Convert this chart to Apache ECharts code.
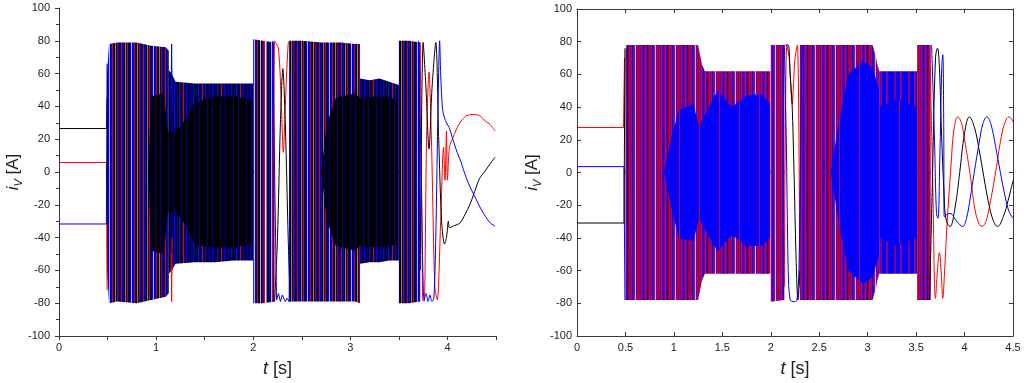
<!DOCTYPE html>
<html>
<head>
<meta charset="utf-8">
<script src="https://cdn.jsdelivr.net/npm/echarts@6.0.0/dist/echarts.min.js"></script>
<style>
html,body{margin:0;padding:0;background:#ffffff;}
#chart{width:1024px;height:383px;}
</style>
</head>
<body>
<div id="chart"></div>
<script>
// ================= tick values =================
const yTickValues = [-100,-80,-60,-40,-20,0,20,40,60,80,100];
const leftXLabels = [0,1,2,3,4];
const rightXLabels = [0,0.5,1,1.5,2,2.5,3,3.5,4,4.5];
const xMax = 4.5;

// ================= LEFT panel =================
// steady currents before the start  [t (s), i (A)]
const L_red_pre   = [[0,5.8],[0.488,5.8],[0.495,-72]];
const L_black_pre = [[0,26.5],[0.488,26.5],[0.495,45]];
const L_blue_pre  = [[0,-31.7],[0.488,-31.7],[0.495,66]];
// envelopes of the dense (unresolvable) oscillation of all phases  [t, upper, lower]
const L_env1 = [[0.495,60,-60],[0.515,78,-80],[0.6,79,-79],[0.8,79,-80],[0.95,77,-78],[1.1,76,-76],[1.13,74,-74]];
const L_env2 = [[1.13,62,-62],[1.16,60,-60],[1.2,55,-56],[1.4,54,-55],[1.6,54,-55],[1.8,54,-54],[1.998,54,-54]];
const L_env3 = [[2.0,81,-80],[2.1,80,-80],[2.22,79,-79]];
const L_env4 = [[2.37,80,-79],[2.5,80,-79],[2.7,79,-79],[2.9,79,-79],[3.05,78,-79],[3.1,78,-80]];
const L_env5 = [[3.1,57,-56],[3.2,56,-55],[3.3,57,-55],[3.4,55,-54],[3.5,53,-54]];
const L_env6 = [[3.5,80,-80],[3.6,80,-80],[3.72,79,-79]];
// region where the black phase dominates
const L_core1 = [[0.92,0,0],[0.95,46,-48],[1.08,48,-50],[1.12,25,-25],[1.2,24,-24],[1.3,32,-32],[1.4,42,-44],[1.6,46,-46],[1.8,46,-46],[1.99,44,-44]];
const L_core2 = [[2.7,0,0],[2.76,30,-30],[2.85,45,-45],[3.05,48,-48],[3.1,45,-45],[3.3,46,-46],[3.49,44,-44]];
// resolvable strokes
const L_blue_spike = [[1.155,50],[1.16,78],[1.165,40]];
const L_red_spike  = [[1.155,-50],[1.16,-79],[1.165,-40]];
const L_red_gap   = [[2.2,-79],[2.22,80],[2.26,75],[2.29,40],[2.31,12],[2.33,40],[2.36,78],[2.375,80]];
const L_black_gap = [[2.22,-79],[2.25,-40],[2.28,30],[2.305,63],[2.33,30],[2.36,-40],[2.38,-79]];
const L_blue_gap  = [[2.2,80],[2.24,-78],[2.26,-74],[2.28,-79],[2.30,-75],[2.33,-79],[2.35,-77],[2.37,-79],[2.38,60]];
const L_black_end = [[3.72,-60],[3.75,79],[3.78,50],[3.81,14],[3.84,50],[3.88,79],[3.91,20],[3.94,-30],[3.97,-44],[3.99,-40],[4.01,-30],[4.02,-34],[4.06,-33],[4.13,-31],[4.18,-26],[4.23,-20],[4.28,-12],[4.33,-4],[4.38,0],[4.44,5],[4.49,9]];
const L_red_end   = [[3.72,79],[3.745,-78],[3.76,-79],[3.785,20],[3.81,61],[3.835,20],[3.87,-70],[3.895,-78],[3.93,-30],[3.96,15],[3.975,-5],[3.99,25],[4.0,-5],[4.02,15],[4.05,20],[4.1,27],[4.14,31],[4.19,34],[4.24,35],[4.29,35],[4.34,34],[4.39,31],[4.44,29],[4.49,25]];
const L_blue_end  = [[3.70,80],[3.73,0],[3.76,-78],[3.78,-74],[3.80,-79],[3.82,-75],[3.84,-79],[3.86,-77],[3.88,-40],[3.90,30],[3.92,80],[3.93,60],[3.95,38],[3.97,33],[3.99,30],[4.02,27],[4.05,21],[4.1,12],[4.14,6],[4.19,-3],[4.24,-10],[4.29,-16],[4.34,-22],[4.39,-27],[4.44,-31],[4.49,-33]];

// ================= RIGHT panel =================
const R_red_pre   = [[0,27.5],[0.48,27.5],[0.49,70]];
const R_blue_pre  = [[0,3.6],[0.485,3.6],[0.495,-78]];
const R_black_pre = [[0,-30.9],[0.485,-30.9],[0.495,76]];
const R_env1 = [[0.5,74,-78],[0.51,78,-78],[1.25,78,-78],[1.27,72,-72],[1.29,66,-66],[1.32,62,-62],[1.995,62,-62]];
const R_env2 = [[2.0,78,-79],[2.14,78,-78]];
const R_env3 = [[2.3,78,-78],[3.05,78,-78],[3.08,72,-72],[3.1,66,-66],[3.12,62,-62]];
const R_env4 = [[3.12,62,-62],[3.51,62,-62]];
const R_env5 = [[3.51,78,-78],[3.65,78,-78]];
// region where the blue phase dominates
const R_core1 = [[0.9,0,0],[0.97,20,-20],[1.05,38,-40],[1.2,42,-42],[1.26,28,-28],[1.32,35,-35],[1.45,50,-48],[1.6,40,-38],[1.75,47,-45],[1.9,48,-45],[1.99,42,-40]];
const R_core2 = [[2.62,0,0],[2.7,30,-30],[2.8,60,-60],[2.95,68,-68],[3.05,64,-64],[3.12,50,-50]];
const R_core3 = [[3.12,40,-40],[3.3,45,-45],[3.5,40,-40]];
const R_red_gap   = [[2.14,-70],[2.165,78],[2.19,70],[2.22,42],[2.25,70],[2.275,78],[2.3,-70]];
const R_black_gap = [[2.15,78],[2.18,78],[2.2,60],[2.22,42],[2.24,0],[2.26,-50],[2.28,-78],[2.3,-60]];
const R_blue_gap  = [[2.14,78],[2.16,20],[2.18,-60],[2.2,-78],[2.24,-79],[2.27,-78],[2.29,-60],[2.31,20],[2.32,78]];
const R_black_end = [[3.64,-78],[3.67,0],[3.70,70],[3.72,76],[3.74,65],[3.76,28],[3.79,-15],[3.81,-29],[3.85,-33],[3.9,-22],[3.95,0],[4.0,24],[4.05,34],[4.1,28],[4.15,14],[4.2,-3],[4.25,-19],[4.3,-30],[4.34,-33],[4.4,-27],[4.45,-17],[4.5,-5]];
const R_red_end   = [[3.64,78],[3.67,0],[3.70,-77],[3.72,-60],[3.74,-49],[3.76,-62],[3.775,-77],[3.79,-65],[3.82,-31],[3.86,4],[3.89,26],[3.93,34],[3.97,30],[4.0,20],[4.055,0],[4.1,-20],[4.14,-30],[4.18,-33],[4.22,-30],[4.26,-20],[4.32,0],[4.38,22],[4.42,31],[4.46,34],[4.5,31]];
const R_blue_end  = [[3.66,78],[3.69,20],[3.71,-25],[3.725,-28],[3.745,10],[3.765,65],[3.775,72],[3.785,30],[3.79,-27],[3.85,-25],[3.92,-30],[3.98,-33],[4.02,-28],[4.06,-15],[4.1,0],[4.15,18],[4.19,30],[4.23,34],[4.27,30],[4.32,16],[4.37,0],[4.42,-15],[4.46,-24],[4.5,-28]];

// ================= styling =================
const COLORS = {red:'#ff0000', blue:'#0000ff', black:'#000000'};
const PIX = {r:'#e00000', R:'#a00000', b:'#0000ff', B:'#1010c8', n:'#000080', k:'#000000',
             p:'#800080', m:'#9a0a88', l:'#b8b8e8', g:'#808080', '.':'#ffffff'};
// one opaque stripe texture per band (vertical strokes of the dense oscillation)
function texture(spec){
  const c = document.createElement('canvas');
  c.width = spec.length; c.height = 2;
  const g = c.getContext('2d');
  for (let i = 0; i < spec.length; i++) { g.fillStyle = PIX[spec[i]] || '#ffffff'; g.fillRect(i, 0, 1, 2); }
  return {image: c, repeat: 'repeat'};
}
const TX_DENSE_L  = 'nbrnkgnRbknrnbkgnrnkbl';
const TX_NAVY_L   = 'nnkbnknkBnknrnkbnkn';
const TX_SPARSE_L = 'bnrnklkbRr.gnkbnl';
const TX_CORE_L   = 'kkkknkkkkkkkn';
const TX_PURPLE_R = 'pmpbpmpnprpmbpmlpmpr';
const TX_BLUE_R   = 'bbbbmpbbbbbbpp';
const TX_CORE_R   = 'bbbbbbbbbbbbbbbbbbbm';

const series = [];
// a band = upper edge filled down to just below zero + lower edge filled up to just above zero
function addBand(env, spec, gi, z){
  const fill = texture(spec);
  const ax = gi === 0 ? 0 : 1;
  [[1,-1],[2,1]].forEach(([k, org]) => series.push({
    type:'line', name:'dense', xAxisIndex: ax, yAxisIndex: ax,
    data: env.map(p => [p[0], p[k]]), symbol:'none', silent:true, z,
    lineStyle:{opacity:0, width:0}, areaStyle:{color: fill, opacity:1, origin: org}
  }));
}
function addLine(data, ph, gi, smooth){
  const ax = gi === 0 ? 0 : 1;
  series.push({type:'line', name: ph, xAxisIndex: ax, yAxisIndex: ax,
    data: data, symbol:'none', silent:true, z: 5, smooth: smooth || false,
    lineStyle:{color: COLORS[ph], width:1}});
}
// left
addBand(L_env1, TX_DENSE_L, 0, 2); addBand(L_env2, TX_NAVY_L, 0, 2); addBand(L_env3, TX_SPARSE_L, 0, 2);
addBand(L_env4, TX_DENSE_L, 0, 2); addBand(L_env5, TX_NAVY_L, 0, 2); addBand(L_env6, TX_DENSE_L, 0, 2);
addBand(L_core1, TX_CORE_L, 0, 3); addBand(L_core2, TX_CORE_L, 0, 3);
addLine(L_red_pre,'red',0); addLine(L_black_pre,'black',0); addLine(L_blue_pre,'blue',0);
addLine(L_blue_spike,'blue',0); addLine(L_red_spike,'red',0);
addLine(L_red_gap,'red',0,0.3); addLine(L_black_gap,'black',0,0.3); addLine(L_blue_gap,'blue',0);
addLine(L_red_end,'red',0,0.3); addLine(L_black_end,'black',0,0.3); addLine(L_blue_end,'blue',0,0.3);
// right
addBand(R_env1, TX_PURPLE_R, 1, 2); addBand(R_env2, TX_PURPLE_R, 1, 2); addBand(R_env3, TX_PURPLE_R, 1, 2);
addBand(R_env4, TX_BLUE_R, 1, 2); addBand(R_env5, TX_PURPLE_R, 1, 2);
addBand(R_core1, TX_CORE_R, 1, 3); addBand(R_core2, TX_CORE_R, 1, 3); addBand(R_core3, TX_CORE_R, 1, 3);
addLine(R_red_pre,'red',1); addLine(R_blue_pre,'blue',1); addLine(R_black_pre,'black',1);
addLine(R_red_gap,'red',1,0.3); addLine(R_black_gap,'black',1,0.3); addLine(R_blue_gap,'blue',1,0.3);
addLine(R_red_end,'red',1,0.4); addLine(R_black_end,'black',1,0.4); addLine(R_blue_end,'blue',1,0.4);

const FONT = 'Liberation Sans, Arial, sans-serif';
const AX = '#3a3a3a';
const near = (v, list) => list.some(x => Math.abs(x - v) < 1e-6);
const yName = {
  name: '{i|i}{s|V} [A]', nameLocation:'middle', nameRotate:90,
  nameTextStyle:{fontFamily:FONT, fontSize:17, color:'#222', lineHeight:22,
    rich:{i:{fontStyle:'italic', fontFamily:FONT, fontSize:17, color:'#222', lineHeight:22},
          s:{fontStyle:'italic', fontFamily:FONT, fontSize:11, color:'#222', verticalAlign:'bottom', lineHeight:22}}}
};
const xName = {
  name: '{i|t} [s]', nameLocation:'middle',
  nameTextStyle:{fontFamily:FONT, fontSize:18, color:'#222',
    rich:{i:{fontStyle:'italic', fontFamily:FONT, fontSize:18, color:'#222'}}}
};
const yBase = {type:'value', min: yTickValues[0], max: yTickValues[yTickValues.length-1],
  interval: yTickValues[1]-yTickValues[0], splitLine:{show:false}};

const option = {
  animation:false,
  backgroundColor:'#ffffff',
  grid:[
    {left:59, top:8, width:437, height:336},
    {left:577, top:9, width:436, height:336}
  ],
  xAxis:[
    Object.assign({gridIndex:0, type:'value', min:0, max:xMax, interval:0.5, splitLine:{show:false},
      axisLine:{show:true, onZero:false, lineStyle:{color:AX}},
      axisTick:{show:true, length:4, lineStyle:{color:AX}},
      axisLabel:{fontFamily:FONT, fontSize:11, color:'#222', margin:6,
        formatter: v => near(v, leftXLabels) ? String(Math.round(v)) : ''},
      nameGap:24}, xName),
    Object.assign({gridIndex:1, type:'value', min:0, max:xMax, interval:0.5, splitLine:{show:false},
      axisLine:{show:true, onZero:false, lineStyle:{color:AX}},
      axisTick:{show:true, inside:true, length:4, lineStyle:{color:AX}},
      axisLabel:{fontFamily:FONT, fontSize:11, color:'#222', margin:6,
        formatter: v => near(v, rightXLabels) ? String(Math.round(v*10)/10) : ''},
      nameGap:24}, xName),
    {gridIndex:1, type:'value', position:'top', min:0, max:xMax, interval:0.5, splitLine:{show:false},
      axisLine:{show:true, onZero:false, lineStyle:{color:AX}},
      axisTick:{show:true, inside:true, length:4, lineStyle:{color:AX}}, axisLabel:{show:false}}
  ],
  yAxis:[
    Object.assign({}, yBase, {gridIndex:0,
      axisLine:{show:true, onZero:false, lineStyle:{color:AX}},
      axisTick:{show:true, length:4, lineStyle:{color:AX}},
      minorTick:{show:true, splitNumber:2, length:3, lineStyle:{color:AX}},
      axisLabel:{fontFamily:FONT, fontSize:11, color:'#222', margin:9},
      nameGap:34}, yName),
    Object.assign({}, yBase, {gridIndex:1,
      axisLine:{show:true, onZero:false, lineStyle:{color:AX}},
      axisTick:{show:true, inside:true, length:4, lineStyle:{color:AX}},
      axisLabel:{fontFamily:FONT, fontSize:11, color:'#222', margin:5},
      nameGap:34}, yName),
    Object.assign({}, yBase, {gridIndex:1, position:'right',
      axisLine:{show:true, onZero:false, lineStyle:{color:AX}},
      axisTick:{show:true, inside:true, length:4, lineStyle:{color:AX}},
      axisLabel:{show:false}})
  ],
  series: series
};
const chart = echarts.init(document.getElementById('chart'), null, {renderer:'canvas'});
chart.setOption(option);
</script>
</body>
</html>
